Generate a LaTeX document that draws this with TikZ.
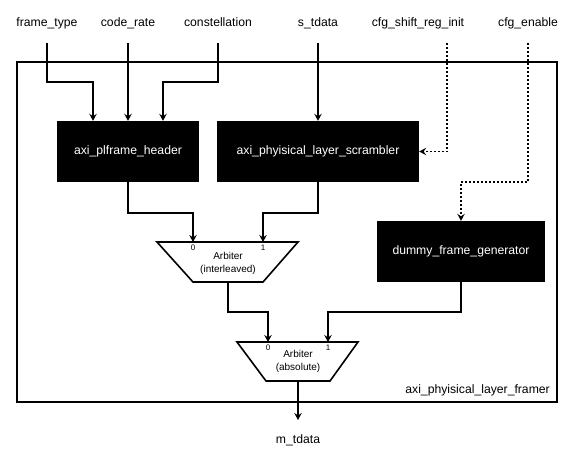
\documentclass[tikz,border=0pt]{standalone}
\usepackage{fontspec}
\setmainfont{Liberation Sans}
\usetikzlibrary{arrows.meta}
\begin{document}
\begin{tikzpicture}[x=1pt,y=-1pt,
  blk/.style={fill=black,text=white,minimum width=#1,minimum height=61pt,inner sep=0pt,font=\fontsize{12.2}{14}\selectfont},
  lbl/.style={anchor=south,inner xsep=0pt,inner ysep=13.5pt,text height=8.5pt,text depth=2.5pt,font=\fontsize{12.2}{14}\selectfont},
  wire/.style={line width=1.6pt,-{Stealth[length=7pt,width=7.5pt,inset=2.5pt]}},
  dotwire/.style={wire,dash pattern=on 2pt off 2pt},
  trap/.style={line width=1.6pt,line join=miter},
  arbtxt/.style={align=center,font=\fontsize{10}{13}\selectfont,inner sep=0pt},
  idx/.style={font=\fontsize{8}{9}\selectfont,inner sep=0pt}]
\useasboundingbox (0,0) rectangle (580,461);
\fill[white] (0,0) rectangle (580,461);

% outer frame
\node[draw,line width=2pt,minimum width=540pt,minimum height=340pt,inner sep=0pt] (frm) at (287,232) {};
\node[anchor=east,inner sep=0pt,font=\fontsize{12.2}{14}\selectfont] (frmlbl) at (550,390) {axi\_phyisical\_layer\_framer};

% top labels
\node[lbl] (ft)  at (47,43)  {frame\_type};
\node[lbl] (cr)  at (128,43) {code\_rate};
\node[lbl] (con) at (218,43) {constellation};
\node[lbl] (st)  at (318,43) {s\_tdata};
\node[lbl] (csr) at (418,43) {cfg\_shift\_reg\_init};
\node[lbl] (cen) at (528,43) {cfg\_enable};
\coordinate (csr-out) at (447,43);

% blocks
\node[blk=142pt] (hdr) at (128,151.5) {axi\_plframe\_header};
\node[blk=202pt] (scr) at (318,151.5) {axi\_phyisical\_layer\_scrambler};
\node[blk=168pt] (dum) at (461,251.5) {dummy\_frame\_generator};

% arbiter (interleaved)
\draw[trap] (157,242) -- (298,242) -- (263,282) -- (193,282) -- cycle;
\node[arbtxt] (arbI) at (228,263.5) {Arbiter\\(interleaved)};
\coordinate (arbI-in0) at (193,242);
\coordinate (arbI-in1) at (263,242);
\coordinate (arbI-out) at (228,282);
\node[idx] (arbI-l0) at (193,247.5) {0};
\node[idx] (arbI-l1) at (263,247.5) {1};

% arbiter (absolute)
\draw[trap] (237,342) -- (358,342) -- (330,381) -- (266,381) -- cycle;
\node[arbtxt] (arbA) at (298,361.5) {Arbiter\\(absolute)};
\coordinate (arbA-in0) at (268,342);
\coordinate (arbA-in1) at (328,342);
\coordinate (arbA-out) at (298,381);
\node[idx] (arbA-l0) at (268,347.5) {0};
\node[idx] (arbA-l1) at (328,347.5) {1};

% output label
\node[anchor=north,inner xsep=0pt,inner ysep=15pt,text height=8.5pt,text depth=2.5pt,font=\fontsize{12.2}{14}\selectfont] (mt) at (298,420) {m\_tdata};

% connectors
\draw[wire] (ft.south) -- ++(0,39) -| ([xshift=-35pt]hdr.north);
\draw[wire] (cr.south) -- (cr.south |- hdr.north);
\draw[wire] (con.south) -- ++(0,39) -| ([xshift=35pt]hdr.north);
\draw[wire] (st.south) -- (st.south |- scr.north);
\draw[dotwire] (csr-out) |- (scr.east);
\draw[dotwire] (cen.south) -- ++(0,139) -| (dum.north);
\draw[wire] (hdr.south) -- ++(0,31) -| (arbI-in0);
\draw[wire] (scr.south) -- ++(0,31) -| (arbI-in1);
\draw[wire] (arbI-out) -- ++(0,30) -| (arbA-in0);
\draw[wire] (dum.south) -- ++(0,30) -| (arbA-in1);
\draw[wire] (arbA-out) -- (mt.north);
\end{tikzpicture}
\end{document}
